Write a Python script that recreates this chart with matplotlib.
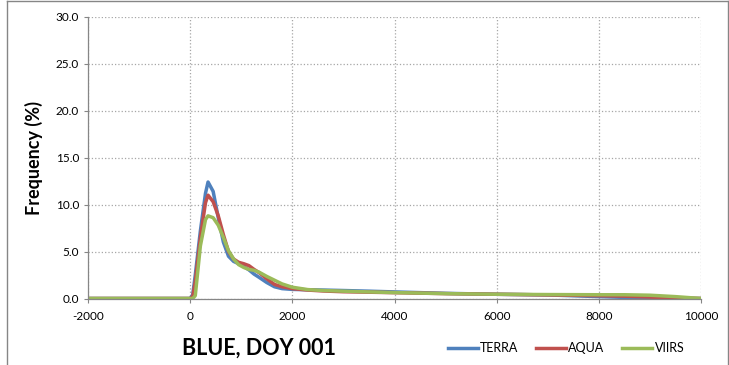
import matplotlib
matplotlib.use("Agg")
import matplotlib.pyplot as plt
from matplotlib.lines import Line2D

# reflectance bins (x) and frequency (%) per sensor
refl = [-2000, -1000, 0, 50, 100, 200, 300, 350, 450, 550, 650, 750, 850, 950,
        1050, 1150, 1250, 1350, 1500, 1650, 1800, 2000, 2300, 2600, 3000, 3500,
        4000, 5000, 6000, 7000, 8000, 8500, 9000, 9500, 10000]
terra = [0, 0, 0, 0.4, 2.5, 7.2, 11.2, 12.4, 11.4, 8.6, 6.0, 4.5, 3.95, 3.7,
         3.4, 3.05, 2.6, 2.25, 1.7, 1.25, 1.05, 0.97, 0.93, 0.9, 0.85, 0.78,
         0.7, 0.55, 0.45, 0.38, 0.2, 0.12, 0.06, 0.02, 0]
aqua = [0, 0, 0, 0.2, 1.8, 6.5, 10.2, 11.0, 10.3, 8.8, 6.8, 5.0, 4.2, 3.85,
        3.7, 3.5, 3.1, 2.75, 2.1, 1.5, 1.25, 1.05, 0.9, 0.8, 0.72, 0.67,
        0.62, 0.52, 0.45, 0.38, 0.3, 0.25, 0.15, 0.05, 0]
viirs = [0, 0, 0, 0, 0.3, 5.6, 8.4, 8.8, 8.6, 7.8, 6.5, 5.1, 4.2, 3.6,
         3.3, 3.1, 3.0, 2.8, 2.35, 1.95, 1.55, 1.2, 0.95, 0.85, 0.78, 0.7,
         0.63, 0.52, 0.45, 0.42, 0.4, 0.4, 0.35, 0.2, 0]

names = ["TERRA", "AQUA", "VIIRS"]
colors = ["#4F81BD", "#C0504D", "#9BBB59"]

plt.rcParams['font.family'] = ['Lato', 'DejaVu Sans']
plt.rcParams['axes.unicode_minus'] = False

fig = plt.figure(figsize=(7.29, 3.65), dpi=100)
ax = fig.add_axes([88/729, 1-298.5/365, 613/729, 281.8/365])

for y, c in zip([terra, aqua, viirs], colors):
    ax.plot(refl, y, color=c, lw=2.5, solid_joinstyle='round')

ax.set_xlim(-2000, 10000)
ax.set_ylim(0, 30)
ax.set_xticks(range(-2000, 10001, 2000))
ax.set_yticks(range(0, 31, 5))
ax.set_yticklabels(["%.1f" % v for v in range(0, 31, 5)])
ax.tick_params(labelsize=8.5, colors='#868686', labelcolor='black', length=3, width=0.8)
ax.tick_params(axis='x', pad=6)
ax.grid(True, ls=':', color='#A6A6A6', lw=0.9)
ax.set_axisbelow(True)
for s in ['top', 'right']:
    ax.spines[s].set_visible(False)
for s in ['left', 'bottom']:
    ax.spines[s].set_color('#868686')
    ax.spines[s].set_linewidth(0.9)

ax.set_ylabel("Frequency (%)", fontsize=13, fontweight='bold', labelpad=9)

fig.text(259/729, 1-348/365, "BLUE, DOY 001", fontsize=15.5, fontweight='bold',
         ha='center', va='center')

handles = [Line2D([], [], color=c, lw=2.5) for c in colors]
fig.legend(handles, names, loc='center', bbox_to_anchor=(566/729, 1-348/365),
           ncol=3, frameon=False, fontsize=9, handlelength=2.4, handletextpad=0.2,
           columnspacing=1.4)

# chart frame
frame = dict(color='#868686', lw=1, transform=fig.transFigure)
fig.add_artist(Line2D([7/729, 7/729], [0, 1-1/365], **frame))
fig.add_artist(Line2D([7/729, 728/729], [1-1/365, 1-1/365], **frame))
fig.add_artist(Line2D([728/729, 728/729], [0, 1-1/365], **frame))

fig.savefig("out.png", dpi=100)
